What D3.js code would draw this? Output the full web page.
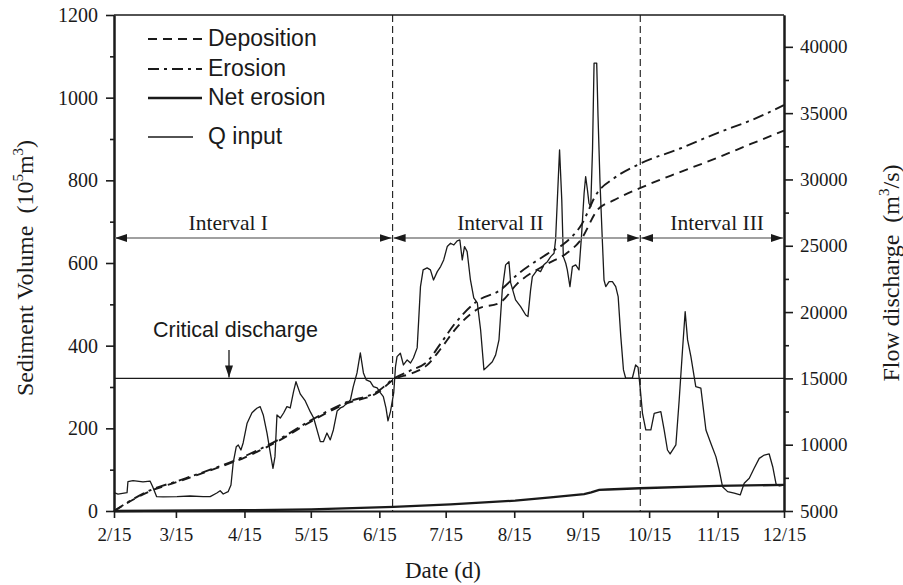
<!DOCTYPE html>
<html>
<head>
<meta charset="utf-8">
<script src="https://cdn.jsdelivr.net/npm/d3@7"></script>
<style>
  html, body { margin: 0; padding: 0; background: #fff; }
  svg { display: block; }
  .serif { font-family: "Liberation Serif", "Times New Roman", serif; }
  .sans { font-family: "Liberation Sans", Arial, sans-serif; }
</style>
</head>
<body>
<svg id="chart" width="903" height="585"></svg>
<script>
// ---- data ----
const xTickLabels = ["2/15", "3/15", "4/15", "5/15", "6/15", "7/15", "8/15", "9/15", "10/15", "11/15", "12/15"];
const leftTicks = [0, 200, 400, 600, 800, 1000, 1200];
const rightTicks = [5000, 10000, 15000, 20000, 25000, 30000, 35000, 40000];
const dividerDates = ["6/21", "10/11"];
const intervalNames = ["Interval I", "Interval II", "Interval III"];
const criticalQ = 15000;
const legendNames = ["Deposition", "Erosion", "Net erosion", "Q input"];

// days after 2/15
const erosionDay = [0, 16.3, 28.4, 43.5, 59.3, 75.2, 89.2, 104.6, 120, 126.4, 134.1, 141.6, 147.7, 154.4, 164.3, 174.8, 182.4, 196, 204.3, 211.1, 218.6, 226.1, 237.8, 256, 273.1, 288, 303];
const erosionVol = [0, 50, 72, 100, 133, 175, 220, 262, 292, 320, 340, 361, 405, 455, 508, 535, 572, 622, 650, 690, 770, 805, 840, 877, 915, 945, 982];

const depositionDay = [0, 16.3, 28.4, 43.5, 59.3, 75.2, 89.2, 104.6, 120, 126.4, 134.1, 141.6, 147.7, 154.4, 164.3, 174.8, 182.4, 196, 204.3, 211.1, 218.6, 226.1, 237.8, 256, 273.1, 288, 303];
const depositionVol = [0, 48, 70, 98, 130, 172, 217, 259, 289, 318, 332, 353, 392, 440, 488, 505, 550, 598, 622, 656, 728, 752, 781, 820, 855, 888, 920];

const netDay = [0, 59.3, 89.2, 126.4, 152.2, 181.4, 197.5, 212.6, 215.8, 219.4, 223.3, 237.8, 273, 303];
const netVol = [0, 2, 4, 10, 16, 25, 33, 41, 45, 51, 52, 55, 61, 63];

const qDay = [0, 1.8, 5.9, 6.3, 8.6, 13.1, 16.3, 17.5, 19.3, 22.2, 28.5, 34.4, 40.3, 43.5, 46.5, 48, 49.4, 51.6, 52.9, 53.9,
  55.3, 56.2, 57.4, 58.4, 60.2, 62.4, 64.6, 66.1, 67.5, 69.2, 70.7, 71.9, 72.8, 73.7, 75.2, 76.7, 78.2, 79.7, 81.2, 82.3,
  84.2, 86.5, 88.8, 90.3, 93.3, 94.7, 96.3, 97.8, 99.2, 100.9, 102.4, 103.7, 106.9, 108.2, 109.9, 111.4, 112.8, 114.1, 115.9, 117.3,
  119, 120.5, 121.8, 123.0, 123.9, 125, 126.5, 127.3, 128, 129.5, 130.9, 132.6, 134.1, 135.4, 137.1, 137.8, 138.6, 139.8, 141.6, 143.1,
  144.5, 146.2, 147.7, 149.1, 150.7, 152.2, 153.7, 155.2, 156.4, 157.5, 158.5, 159.7, 161.2, 162.7, 164.3, 165.8, 167.3, 168.8, 171.1, 172.6,
  174.1, 175.6, 177.1, 178.6, 179.4, 181.6, 183.9, 186.2, 187.2, 188.4, 189.2, 191.4, 192.9, 194.4, 196, 197.5, 199, 199.7, 200.5, 201.5,
  202.5, 203.2, 204.3, 205, 206.2, 207.3, 208.8, 210.3, 211.4, 212.6, 213.3, 214.1, 214.8, 215.6, 216.4, 217.1, 218.3, 218.9, 219.8, 220.9,
  221.6, 222.4, 223.9, 225.4, 226.9, 228, 229.2, 230.4, 231.4, 234.4, 235.9, 237, 237.9, 239, 240.5, 242.8, 244.3, 247.3, 248.8, 250.3,
  251.5, 254.1, 255.6, 257.1, 258.3, 259.4, 260.9, 263.1, 265.4, 267.7, 269.9, 272.2, 273.7, 275.2, 277.5, 280.5, 283.2, 285, 287.3, 289.5,
  291.8, 294.1, 296.3, 297.9, 299.4, 300.9, 303];
const qFlow = [6380, 6280, 6380, 7210, 7290, 7190, 7260, 6830, 6080, 6060, 6080, 6130, 6080, 6080, 6360, 6530, 6280, 6460, 6960, 8620,
  9850, 9980, 9600, 10130, 11620, 12410, 12750, 12870, 12240, 10880, 9370, 8210, 9100, 12240, 12010, 12390, 12870, 12770, 14000, 14750,
  13830, 13300, 12470, 12010, 10230, 10230, 10880, 10360, 11110, 12540, 12770, 12870, 13370, 14380, 15410, 16920, 15410, 14880, 14750, 14380,
  14280, 13900, 13620, 12770, 11790, 12470, 13900, 15880, 16640, 16900, 16010, 16390, 16160, 16540, 17300, 19410, 21920, 23180, 23330, 23180,
  22420, 23050, 23430, 23930, 24940, 25190, 25060, 25370, 25440, 23930, 24940, 24560, 22420, 21070, 20690, 18650, 15640, 15880, 16260, 16770,
  17900, 21670, 23560, 23800, 22200, 20920, 20410, 19780, 19660, 21670, 22670, 23180, 23050, 23560, 23800, 24180, 24440, 25440, 28460, 32230,
  28460, 24180, 23680, 23180, 21920, 23430, 23560, 23180, 25690, 28960, 30220, 29210, 28210, 27950, 32230, 38770, 38770, 34740, 29740, 25190,
  22420, 21920, 22300, 22300, 21920, 21170, 18150, 15640, 15010, 15010, 16010, 15840, 14380, 12370, 11110, 11110, 12370, 12490, 11110, 9600,
  9300, 9980, 13370, 17140, 20030, 17900, 16640, 14380, 14260, 11110, 10110, 9100, 8090, 6830, 6460, 6340, 6210, 7090, 7470, 8220,
  8970, 9220, 9300, 8340, 7040, 6890, 6960];

// ---- layout ----
const svg = d3.select("#chart");
const m = { left: 114, right: 784, top: 15, bottom: 511 };
const ink = "#1a1a1a";

const YEAR = 2005;
const parseMD = s => { const [mo, d] = s.split("/").map(Number); return new Date(Date.UTC(YEAR, mo - 1, d)); };
const start = parseMD(xTickLabels[0]);
const dayToDate = d => new Date(start.getTime() + d * 864e5);

const x = d3.scaleUtc()
  .domain([start, parseMD(xTickLabels[xTickLabels.length - 1])])
  .range([m.left, m.right]);
const yL = d3.scaleLinear().domain([0, 1200]).range([m.bottom, m.top]);
const yR = d3.scaleLinear().domain([5000, 42400]).range([m.bottom, m.top]);

// ---- axes ----
const tickDates = xTickLabels.map(parseMD);
svg.append("g").attr("class", "ax-b").attr("transform", `translate(0,${m.bottom})`)
  .call(d3.axisBottom(x).tickValues(tickDates).tickSize(7).tickSizeOuter(0).tickPadding(10)
    .tickFormat((d, i) => xTickLabels[i]));

svg.append("g").attr("class", "ax-l").attr("transform", `translate(${m.left},0)`)
  .call(d3.axisLeft(yL).tickValues(leftTicks).tickSize(8).tickSizeOuter(0).tickPadding(8)
    .tickFormat(d3.format("d")));
svg.append("g").attr("transform", `translate(${m.left},0)`)
  .call(d3.axisLeft(yL).tickValues(d3.range(100, 1200, 200)).tickSize(4).tickSizeOuter(0).tickFormat(""));

svg.append("g").attr("class", "ax-r").attr("transform", `translate(${m.right},0)`)
  .call(d3.axisRight(yR).tickValues(rightTicks).tickSize(9).tickSizeOuter(0).tickPadding(7)
    .tickFormat(d3.format("d")));
svg.append("g").attr("transform", `translate(${m.right},0)`)
  .call(d3.axisRight(yR).tickValues(d3.range(7500, 42400, 5000)).tickSize(5).tickSizeOuter(0).tickFormat(""));

svg.selectAll(".domain").attr("stroke", ink).attr("stroke-width", 2);
svg.selectAll(".tick line").attr("stroke", ink).attr("stroke-width", 1.6);
svg.selectAll(".tick text").attr("class", "serif").attr("font-size", 19).attr("fill", ink);
svg.selectAll(".ax-l .tick text").attr("font-size", 20);

// top frame line
svg.append("line")
  .attr("x1", m.left).attr("x2", m.right).attr("y1", m.top).attr("y2", m.top)
  .attr("stroke", ink).attr("stroke-width", 1.6);

// ---- reference lines ----
svg.append("line")
  .attr("x1", m.left).attr("x2", m.right)
  .attr("y1", yR(criticalQ)).attr("y2", yR(criticalQ))
  .attr("stroke", ink).attr("stroke-width", 1.4);

const dividers = dividerDates.map(parseMD);
svg.selectAll(".divider").data(dividers).join("line")
  .attr("class", "divider")
  .attr("x1", d => x(d)).attr("x2", d => x(d))
  .attr("y1", m.top).attr("y2", m.bottom)
  .attr("stroke", ink).attr("stroke-width", 1.1).attr("stroke-dasharray", "7,4");

// ---- series ----
const lineR = d3.line().x(d => x(d[0])).y(d => yR(d[1]));
const lineL = d3.line().x(d => x(d[0])).y(d => yL(d[1]));
const smoothL = d3.line().x(d => x(d[0])).y(d => yL(d[1])).curve(d3.curveMonotoneX);
const zip = (days, vals) => days.map((d, i) => [dayToDate(d), vals[i]]);

const styles = {
  "Deposition": { w: 1.9, dash: "9,6" },
  "Erosion": { w: 1.9, dash: "11,5,3,5" },
  "Net erosion": { w: 2.3, dash: null },
  "Q input": { w: 1.3, dash: null }
};

svg.append("path").datum(zip(qDay, qFlow)).attr("d", lineR)
  .attr("fill", "none").attr("stroke", ink).attr("stroke-width", styles["Q input"].w)
  .attr("stroke-linejoin", "round");
svg.append("path").datum(zip(netDay, netVol)).attr("d", lineL)
  .attr("fill", "none").attr("stroke", ink).attr("stroke-width", styles["Net erosion"].w);
svg.append("path").datum(zip(depositionDay, depositionVol)).attr("d", smoothL)
  .attr("fill", "none").attr("stroke", ink).attr("stroke-width", styles["Deposition"].w)
  .attr("stroke-dasharray", styles["Deposition"].dash);
svg.append("path").datum(zip(erosionDay, erosionVol)).attr("d", smoothL)
  .attr("fill", "none").attr("stroke", ink).attr("stroke-width", styles["Erosion"].w)
  .attr("stroke-dasharray", styles["Erosion"].dash);

// ---- interval arrows ----
const defs = svg.append("defs");
defs.append("marker").attr("id", "tri").attr("viewBox", "0 0 12 8")
  .attr("refX", 12).attr("refY", 4).attr("markerWidth", 12).attr("markerHeight", 8)
  .attr("markerUnits", "userSpaceOnUse").attr("orient", "auto-start-reverse")
  .append("path").attr("d", "M0,0 L12,4 L0,8 Z").attr("fill", ink);

const bounds = [start, ...dividers, x.domain()[1]];
const arrowY = 238;
const labelShift = [-25, -16, 5];
intervalNames.forEach((name, i) => {
  const x0 = x(bounds[i]) + 1, x1 = x(bounds[i + 1]) - 1;
  svg.append("line").attr("x1", x0).attr("x2", x1).attr("y1", arrowY).attr("y2", arrowY)
    .attr("stroke", "#808080").attr("stroke-width", 1.4)
    .attr("marker-start", "url(#tri)").attr("marker-end", "url(#tri)");
  svg.append("text").attr("class", "serif")
    .attr("x", (x0 + x1) / 2 + labelShift[i]).attr("y", arrowY - 8)
    .attr("text-anchor", "middle").attr("font-size", 21.5).attr("fill", ink)
    .text(name);
});

// critical discharge annotation
const critX = 229;
svg.append("line").attr("x1", critX).attr("x2", critX)
  .attr("y1", 350).attr("y2", yR(criticalQ) - 1)
  .attr("stroke", ink).attr("stroke-width", 1.3).attr("marker-end", "url(#tri)");
svg.append("text").attr("class", "sans").attr("x", 153).attr("y", 337)
  .attr("font-size", 21.5).attr("fill", ink).text("Critical discharge");

// ---- legend ----
const legendY = [39, 69, 98, 137];
const legend = svg.append("g");
legendNames.forEach((name, i) => {
  const s = styles[name];
  legend.append("line")
    .attr("x1", 148).attr("x2", i === 3 ? 193 : 202)
    .attr("y1", legendY[i]).attr("y2", legendY[i])
    .attr("stroke", ink).attr("stroke-width", s.w)
    .attr("stroke-dasharray", s.dash);
  legend.append("text").attr("class", "sans")
    .attr("x", 208).attr("y", legendY[i] + 7)
    .attr("font-size", 23).attr("fill", ink).text(name);
});

// ---- axis titles ----
const lt = svg.append("text").attr("class", "serif")
  .attr("transform", "translate(33,268) rotate(-90)")
  .attr("text-anchor", "middle").attr("font-size", 24).attr("fill", ink)
  .attr("xml:space", "preserve");
lt.append("tspan").text("Sediment Volume  (10");
lt.append("tspan").attr("font-size", 15).attr("dy", -10).text("5");
lt.append("tspan").attr("dy", 10).text("m");
lt.append("tspan").attr("font-size", 15).attr("dy", -10).text("3");
lt.append("tspan").attr("dy", 10).text(")");

const rt = svg.append("text").attr("class", "serif")
  .attr("transform", "translate(899,273) rotate(-90)")
  .attr("text-anchor", "middle").attr("font-size", 24).attr("fill", ink)
  .attr("xml:space", "preserve");
rt.append("tspan").text("Flow discharge  (m");
rt.append("tspan").attr("font-size", 15).attr("dy", -10).text("3");
rt.append("tspan").attr("dy", 10).text("/s)");

svg.append("text").attr("class", "serif")
  .attr("x", 443).attr("y", 578).attr("text-anchor", "middle")
  .attr("font-size", 23).attr("fill", ink).text("Date (d)");
</script>
</body>
</html>
